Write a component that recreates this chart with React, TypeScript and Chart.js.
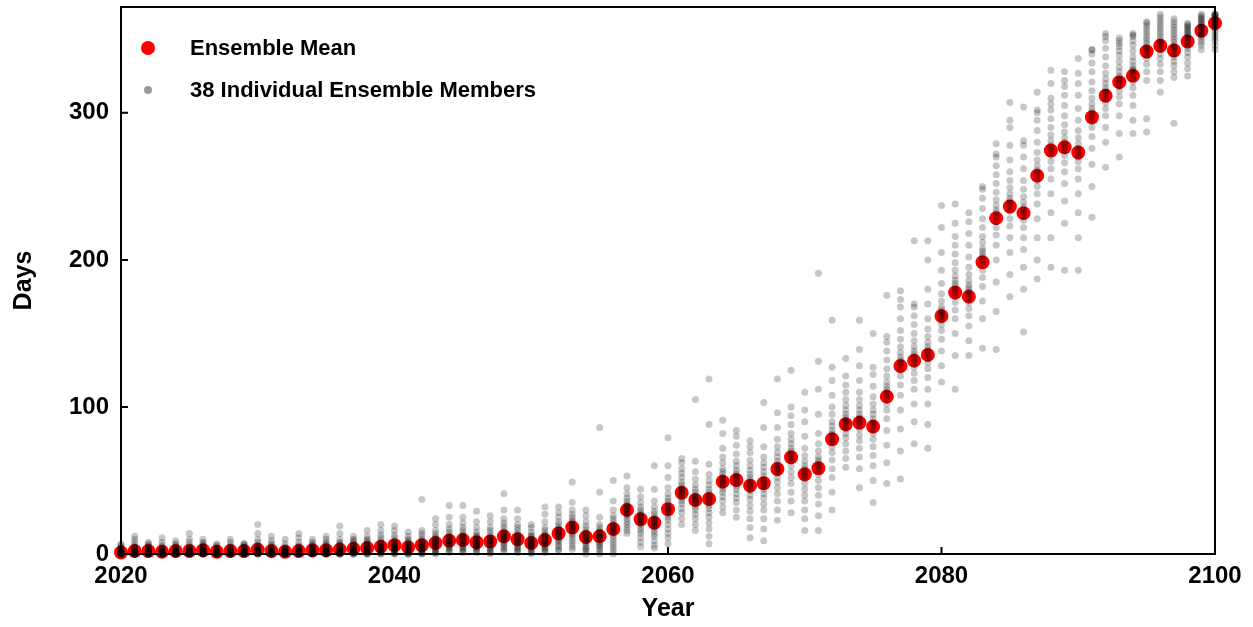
import React, { useEffect, useRef } from "react";
import { Chart, registerables } from "chart.js";

Chart.register(...registerables);

const years = [
  2020, 2021, 2022, 2023, 2024, 2025, 2026, 2027, 2028, 2029,
  2030, 2031, 2032, 2033, 2034, 2035, 2036, 2037, 2038, 2039,
  2040, 2041, 2042, 2043, 2044, 2045, 2046, 2047, 2048, 2049,
  2050, 2051, 2052, 2053, 2054, 2055, 2056, 2057, 2058, 2059,
  2060, 2061, 2062, 2063, 2064, 2065, 2066, 2067, 2068, 2069,
  2070, 2071, 2072, 2073, 2074, 2075, 2076, 2077, 2078, 2079,
  2080, 2081, 2082, 2083, 2084, 2085, 2086, 2087, 2088, 2089,
  2090, 2091, 2092, 2093, 2094, 2095, 2096, 2097, 2098, 2099,
  2100,
];

const meanDays = [
  1, 2, 2, 1.5, 2, 2, 2.5, 1.5, 2, 2,
  3, 2, 1.5, 2, 2.5, 2.5, 3, 3.5, 4, 5,
  6, 4.5, 6, 7.5, 9, 9.5, 8, 8.5, 12, 10,
  7.5, 9.5, 14, 18, 11.5, 12, 17, 30, 23.6, 21.3,
  30.4, 41.7, 36.7, 37.4, 49.2, 50.3, 46.5, 48.1, 57.8, 65.8,
  54.2, 58.3, 78, 88.2, 89.3, 86.6, 107, 127.9, 131.5, 135.4,
  161.9, 177.8, 175, 198.4, 228.4, 236.3, 231.8, 257.3, 274.4, 276.6,
  273, 297, 311.6, 320.9, 325.2, 341.7, 345.6, 342.4, 348.5, 355.8,
  361,
];

const memberDays: number[][] = [
  [0, 0, 0, 0, 0, 0, 0, 0, 1, 1, 1, 1, 2, 2, 3, 3, 4, 5, 6, 7],
  [0, 0, 0, 0, 0, 0, 1, 1, 1, 2, 2, 2, 3, 3, 4, 5, 6, 8, 10, 12],
  [0, 0, 0, 0, 0, 0, 1, 1, 1, 1, 2, 2, 2, 3, 3, 4, 5, 6, 7, 8],
  [0, 0, 0, 0, 0, 0, 0, 1, 1, 1, 1, 2, 2, 2, 3, 4, 5, 6, 8, 11],
  [0, 0, 0, 0, 0, 0, 1, 1, 1, 1, 2, 2, 2, 3, 3, 4, 5, 6, 7, 9],
  [0, 0, 0, 0, 0, 1, 1, 1, 1, 2, 2, 2, 3, 3, 4, 5, 6, 8, 10, 14],
  [0, 0, 0, 0, 0, 1, 1, 1, 2, 2, 2, 3, 3, 4, 4, 5, 6, 7, 8, 10],
  [0, 0, 0, 0, 0, 0, 0, 1, 1, 1, 1, 1, 2, 2, 2, 3, 4, 5, 6, 7],
  [0, 0, 0, 0, 0, 0, 1, 1, 1, 1, 2, 2, 2, 3, 3, 4, 5, 6, 8, 10],
  [0, 0, 0, 0, 0, 0, 1, 1, 1, 2, 2, 2, 3, 3, 4, 4, 5, 6, 7, 7],
  [0, 0, 0, 0, 1, 1, 1, 2, 2, 2, 3, 3, 4, 4, 5, 6, 8, 10, 14, 20],
  [0, 0, 0, 0, 0, 1, 1, 1, 1, 2, 2, 2, 3, 3, 4, 5, 6, 7, 9, 12],
  [0, 0, 0, 0, 0, 0, 0, 1, 1, 1, 1, 2, 2, 2, 3, 3, 4, 5, 7, 10],
  [0, 0, 0, 0, 0, 1, 1, 1, 2, 2, 2, 2, 3, 3, 4, 5, 6, 8, 11, 14],
  [0, 0, 0, 0, 0, 1, 1, 1, 2, 2, 2, 3, 3, 4, 4, 5, 6, 7, 8, 10],
  [0, 0, 0, 0, 1, 1, 1, 2, 2, 2, 3, 3, 3, 4, 5, 6, 7, 8, 10, 12],
  [0, 0, 0, 0, 1, 1, 1, 2, 2, 3, 3, 3, 4, 5, 6, 7, 8, 10, 14, 19],
  [0, 0, 0, 1, 1, 1, 2, 2, 3, 3, 3, 4, 4, 5, 6, 7, 8, 9, 10, 12],
  [0, 0, 0, 1, 1, 2, 2, 3, 3, 4, 4, 4, 5, 6, 7, 8, 9, 10, 12, 16],
  [0, 0, 1, 1, 2, 2, 3, 3, 4, 4, 5, 5, 6, 7, 8, 9, 11, 13, 16, 20],
  [0, 0, 1, 1, 2, 3, 3, 4, 4, 5, 5, 6, 6, 7, 8, 9, 11, 13, 16, 19],
  [0, 0, 0, 1, 1, 2, 2, 3, 3, 4, 4, 5, 5, 6, 7, 8, 9, 10, 12, 15],
  [0, 0, 1, 1, 2, 3, 3, 4, 5, 5, 6, 6, 7, 8, 9, 10, 12, 14, 16, 37],
  [0, 1, 1, 2, 3, 4, 5, 6, 7, 7, 8, 8, 9, 10, 11, 12, 14, 16, 20, 24],
  [1, 2, 3, 4, 5, 6, 7, 8, 8, 9, 9, 10, 11, 12, 13, 15, 17, 20, 25, 33],
  [1, 2, 3, 4, 5, 6, 7, 8, 9, 10, 10, 11, 12, 13, 14, 16, 18, 21, 25, 33],
  [1, 2, 3, 4, 5, 5, 6, 7, 7, 8, 8, 9, 10, 11, 12, 13, 15, 18, 22, 29],
  [0, 1, 2, 3, 4, 5, 6, 7, 8, 8, 9, 9, 10, 11, 12, 14, 16, 18, 22, 26],
  [2, 3, 4, 6, 7, 8, 9, 10, 11, 12, 12, 13, 14, 15, 17, 19, 21, 24, 30, 41],
  [1, 2, 3, 4, 5, 6, 7, 8, 9, 10, 10, 11, 12, 13, 14, 16, 18, 20, 24, 30],
  [0, 1, 2, 3, 4, 5, 6, 6, 7, 7, 8, 8, 9, 10, 11, 12, 13, 15, 18, 20],
  [1, 2, 3, 4, 5, 6, 7, 8, 9, 9, 10, 11, 12, 13, 14, 16, 18, 22, 27, 32],
  [2, 3, 5, 6, 8, 9, 10, 12, 13, 14, 14, 15, 16, 17, 18, 20, 22, 25, 28, 32],
  [3, 5, 7, 9, 11, 13, 14, 16, 17, 18, 18, 19, 20, 22, 23, 25, 27, 30, 35, 49],
  [0, 2, 3, 4, 5, 7, 8, 9, 10, 11, 11, 12, 13, 14, 15, 17, 19, 22, 26, 30],
  [0, 2, 3, 5, 6, 7, 8, 10, 11, 12, 12, 13, 14, 15, 16, 18, 20, 25, 42, 86],
  [0, 2, 4, 6, 8, 10, 12, 14, 15, 16, 17, 18, 19, 20, 22, 24, 26, 30, 36, 50],
  [14, 16, 18, 20, 22, 24, 26, 27, 28, 29, 30, 31, 32, 33, 34, 36, 38, 41, 45, 53],
  [5, 8, 11, 14, 16, 18, 20, 21, 22, 23, 24, 25, 26, 27, 28, 30, 32, 35, 39, 44],
  [4, 6, 9, 12, 14, 16, 18, 19, 20, 21, 22, 23, 24, 25, 27, 29, 32, 36, 44, 60],
  [7, 11, 14, 17, 20, 23, 25, 27, 29, 30, 31, 32, 34, 36, 38, 41, 45, 52, 60, 79],
  [20, 24, 28, 31, 34, 36, 38, 40, 41, 42, 43, 44, 45, 47, 49, 52, 55, 58, 62, 65],
  [16, 20, 24, 27, 30, 32, 34, 35, 36, 37, 38, 39, 40, 42, 44, 47, 51, 56, 63, 105],
  [7, 12, 17, 21, 25, 28, 31, 33, 35, 37, 38, 40, 42, 44, 47, 50, 54, 61, 88, 119],
  [28, 32, 36, 39, 42, 44, 46, 48, 49, 50, 51, 52, 54, 56, 58, 62, 66, 72, 82, 91],
  [25, 30, 35, 38, 41, 44, 46, 48, 50, 51, 52, 53, 55, 57, 60, 63, 68, 74, 80, 84],
  [11, 18, 24, 29, 33, 37, 40, 43, 45, 47, 48, 50, 52, 54, 57, 60, 64, 69, 73, 77],
  [9, 17, 24, 30, 34, 38, 41, 44, 46, 48, 49, 51, 53, 56, 59, 62, 66, 73, 86, 103],
  [23, 30, 36, 41, 45, 49, 52, 55, 57, 58, 59, 61, 63, 66, 69, 73, 78, 86, 96, 119],
  [28, 36, 42, 48, 52, 56, 60, 63, 65, 67, 68, 70, 72, 75, 78, 82, 88, 94, 100, 125],
  [16, 24, 30, 36, 40, 44, 48, 51, 53, 55, 56, 58, 60, 63, 67, 72, 80, 90, 98, 110],
  [16, 26, 34, 40, 45, 50, 54, 57, 59, 60, 62, 64, 66, 70, 75, 82, 95, 112, 131, 191],
  [30, 42, 52, 58, 64, 69, 73, 76, 78, 80, 82, 84, 87, 90, 95, 100, 108, 118, 127, 159],
  [59, 65, 70, 75, 79, 82, 85, 87, 89, 90, 91, 93, 95, 98, 101, 105, 110, 115, 121, 133],
  [45, 58, 66, 72, 77, 81, 85, 88, 90, 92, 93, 95, 98, 101, 105, 110, 118, 128, 139, 159],
  [35, 50, 60, 67, 73, 78, 82, 85, 87, 89, 90, 92, 95, 98, 102, 107, 114, 122, 127, 150],
  [48, 62, 74, 84, 92, 98, 102, 106, 108, 110, 112, 114, 117, 121, 126, 132, 138, 144, 148, 176],
  [51, 70, 85, 98, 108, 115, 121, 125, 128, 130, 132, 134, 137, 141, 146, 152, 160, 168, 173, 179],
  [75, 90, 102, 112, 118, 123, 127, 130, 132, 134, 136, 138, 141, 145, 150, 156, 162, 168, 170, 213],
  [72, 88, 102, 112, 120, 126, 130, 133, 135, 137, 139, 141, 144, 148, 153, 160, 170, 180, 200, 213],
  [117, 128, 138, 146, 152, 156, 159, 161, 162, 163, 164, 166, 168, 172, 177, 184, 193, 205, 222, 237],
  [112, 135, 150, 160, 166, 171, 175, 178, 180, 182, 184, 186, 189, 193, 198, 204, 210, 216, 225, 238],
  [135, 145, 155, 162, 167, 171, 174, 176, 178, 179, 181, 183, 186, 190, 195, 202, 210, 218, 226, 232],
  [140, 160, 172, 182, 188, 193, 197, 200, 202, 204, 206, 208, 212, 216, 222, 228, 235, 242, 248, 250],
  [139, 165, 185, 200, 210, 217, 222, 226, 229, 232, 234, 237, 241, 246, 252, 258, 264, 270, 272, 279],
  [175, 190, 205, 215, 223, 228, 233, 236, 238, 240, 242, 245, 249, 254, 260, 268, 278, 290, 295, 307],
  [151, 180, 195, 207, 215, 222, 227, 230, 232, 234, 236, 239, 243, 248, 254, 262, 270, 278, 281, 304],
  [187, 200, 215, 228, 238, 245, 250, 254, 257, 259, 261, 264, 268, 273, 280, 288, 295, 300, 302, 314],
  [195, 215, 232, 245, 255, 262, 267, 271, 274, 276, 278, 281, 285, 290, 296, 302, 306, 310, 320, 329],
  [193, 225, 240, 252, 260, 266, 271, 274, 276, 278, 280, 283, 287, 292, 298, 305, 312, 318, 322, 328],
  [193, 215, 232, 245, 255, 262, 267, 270, 272, 274, 276, 279, 283, 288, 295, 303, 312, 320, 327, 337],
  [229, 250, 265, 276, 284, 290, 294, 297, 299, 301, 303, 306, 310, 315, 321, 328, 334, 340, 343, 343],
  [263, 280, 290, 298, 303, 307, 310, 312, 314, 315, 317, 320, 323, 327, 332, 338, 344, 349, 352, 354],
  [270, 286, 298, 306, 311, 315, 318, 320, 322, 323, 325, 328, 331, 335, 339, 342, 345, 347, 349, 351],
  [286, 295, 305, 312, 317, 321, 324, 326, 328, 329, 330, 332, 335, 338, 342, 346, 349, 352, 353, 354],
  [287, 296, 322, 328, 333, 337, 339, 341, 343, 344, 345, 347, 349, 351, 353, 355, 357, 359, 361, 362],
  [314, 322, 328, 333, 337, 340, 343, 345, 347, 348, 349, 351, 353, 355, 357, 359, 361, 363, 365, 367],
  [293, 324, 328, 332, 335, 338, 340, 342, 344, 345, 346, 348, 350, 352, 354, 356, 358, 360, 362, 364],
  [325, 330, 334, 338, 341, 344, 346, 348, 350, 351, 352, 353, 354, 355, 356, 357, 358, 359, 360, 361],
  [343, 346, 348, 350, 352, 353, 354, 355, 356, 357, 358, 359, 360, 361, 362, 363, 364, 365, 366, 367],
  [343, 346, 349, 351, 353, 355, 357, 358, 359, 360, 361, 362, 363, 364, 365, 366, 366, 367, 367, 367],
];

const xTickValues = [2020, 2040, 2060, 2080, 2100];
const yTickValues = [0, 100, 200, 300];
const legendLabels = ["Ensemble Mean", "38 Individual Ensemble Members"];
const xTitle = "Year";
const yTitle = "Days";

const FONT = "'Liberation Sans', Arial, Helvetica, sans-serif";
const MEAN_COLOR = "rgb(255,0,0)";
const MEMBER_COLOR = "rgba(0,0,0,0.22)";

export default function App() {
  const canvasRef = useRef<HTMLCanvasElement>(null);

  useEffect(() => {
    const canvas = canvasRef.current;
    if (!canvas) return;

    const memberPoints: { x: number; y: number }[] = [];
    years.forEach((yr, i) => {
      memberDays[i].forEach((v) => memberPoints.push({ x: yr, y: v }));
    });
    const meanPoints = years.map((yr, i) => ({ x: yr, y: meanDays[i] }));

    const decorPlugin = {
      id: "decor",
      afterDatasetsDraw(chart: any) {
        const { ctx, chartArea: a, scales } = chart;
        ctx.save();
        ctx.strokeStyle = "#000";
        ctx.lineWidth = 2;
        ctx.strokeRect(a.left, a.top, a.right - a.left, a.bottom - a.top);
        ctx.beginPath();
        xTickValues.forEach((t) => {
          const px = scales.x.getPixelForValue(t);
          ctx.moveTo(px, a.bottom);
          ctx.lineTo(px, a.bottom - 7);
        });
        yTickValues.forEach((t) => {
          const py = scales.y.getPixelForValue(t);
          ctx.moveTo(a.left, py);
          ctx.lineTo(a.left + 7, py);
        });
        ctx.stroke();

        // legend
        ctx.fillStyle = MEAN_COLOR;
        ctx.beginPath();
        ctx.arc(148, 48, 7, 0, Math.PI * 2);
        ctx.fill();
        ctx.fillStyle = "#999";
        ctx.beginPath();
        ctx.arc(148, 90, 4, 0, Math.PI * 2);
        ctx.fill();
        ctx.fillStyle = "#000";
        ctx.font = `bold 22px ${FONT}`;
        ctx.textAlign = "left";
        ctx.textBaseline = "middle";
        ctx.fillText(legendLabels[0], 190, 49);
        ctx.fillText(legendLabels[1], 190, 91);

        // axis titles
        ctx.font = `bold 25px ${FONT}`;
        ctx.textAlign = "center";
        ctx.textBaseline = "middle";
        ctx.fillText(xTitle, (a.left + a.right) / 2, 609);
        ctx.save();
        ctx.translate(24, (a.top + a.bottom) / 2);
        ctx.rotate(-Math.PI / 2);
        ctx.fillText(yTitle, 0, 0);
        ctx.restore();
        ctx.restore();
      },
    };

    const chart = new Chart(canvas, {
      type: "scatter",
      data: {
        datasets: [
          {
            label: legendLabels[1],
            data: memberPoints,
            backgroundColor: MEMBER_COLOR,
            borderWidth: 0,
            pointRadius: 3.5,
            order: 0,
            clip: false as any,
          },
          {
            label: legendLabels[0],
            data: meanPoints,
            backgroundColor: MEAN_COLOR,
            borderWidth: 0,
            pointRadius: 7,
            order: 1,
            clip: false as any,
          },
        ],
      },
      options: {
        animation: false,
        responsive: false,
        maintainAspectRatio: false,
        events: [],
        layout: { padding: { top: 7, right: 38, left: 0, bottom: 0 } },
        plugins: { legend: { display: false }, tooltip: { enabled: false } },
        scales: {
          x: {
            type: "linear",
            min: 2020,
            max: 2100,
            grid: { display: false, drawTicks: false },
            border: { display: false },
            ticks: {
              stepSize: 20,
              padding: 8,
              color: "#000",
              font: { family: FONT, size: 24, weight: "bold" },
              callback: (v: any) => (xTickValues.includes(Number(v)) ? String(v) : ""),
            },
            afterFit: (scale: any) => {
              scale.height = 73;
              scale.paddingLeft = 0;
              scale.paddingRight = 0;
            },
          },
          y: {
            type: "linear",
            min: 0,
            max: 372,
            grid: { display: false, drawTicks: false },
            border: { display: false },
            ticks: {
              stepSize: 100,
              includeBounds: false,
              padding: 12,
              color: "#000",
              font: { family: FONT, size: 24, weight: "bold" },
              callback: (v: any) => (yTickValues.includes(Number(v)) ? String(v) : ""),
            },
            afterFit: (scale: any) => {
              scale.width = 121;
              scale.paddingTop = 0;
              scale.paddingBottom = 0;
            },
          },
        },
      },
      plugins: [decorPlugin],
    });

    return () => chart.destroy();
  }, []);

  return (
    <div style={{ position: "fixed", left: 0, top: 0, width: 1253, height: 627, background: "#fff" }}>
      <canvas ref={canvasRef} width={1253} height={627} style={{ width: 1253, height: 627 }} />
    </div>
  );
}
